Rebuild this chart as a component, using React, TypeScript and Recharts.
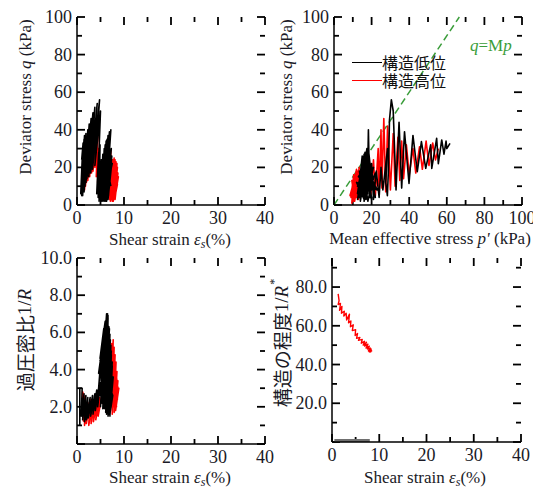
import type { ReactNode } from "react";
import { Legend, Line, LineChart, ReferenceLine, XAxis, YAxis } from "recharts";

type Pt = [number, number];
type Side = "bottom" | "left";
type AxisSpec = {
  domain: [number, number];
  ticks: number[];
  major: (v: number) => boolean;
  fmt: (v: number) => string;
};

const serif = '"Liberation Serif", "Times New Roman", serif';
const cjk = '"Noto Sans CJK JP", "Noto Sans", sans-serif';
const ink = "#1a1a26";
const LOW = "構造低位";
const HIGH = "構造高位";
const lowColor = "#000000";
const highColor = "#ff0000";
const cslColor = "#3a9d3a";
const M = 1.5;

const strainTicks = [0, 5, 10, 15, 20, 25, 30, 35, 40];
const stressTicks = [0, 10, 20, 30, 40, 50, 60, 70, 80, 90, 100];
const meanTicks = [0, 10, 20, 30, 40, 50, 60, 70, 80, 90, 100];
const ocrTicks = [0, 1, 2, 3, 4, 5, 6, 7, 8, 9, 10];
const structTicks = [0, 10, 20, 30, 40, 50, 60, 70, 80, 90];

// shear strain (%) vs deviator stress (kPa)
const qStrainLow: Pt[] = [
  [1.0, 24], [1.3, 33], [0.9, 10], [1.2, 30], [0.8, 6], [1.5, 35], [1.0, 5], [1.6, 37], [1.1, 8], [1.7, 34],
  [1.2, 5], [1.9, 38], [1.3, 9], [2.0, 36], [1.5, 7], [2.3, 40], [1.7, 10], [2.6, 43], [1.9, 12], [3.0, 46],
  [2.1, 14], [3.4, 49], [2.5, 15], [3.8, 52], [2.9, 17], [4.3, 54], [3.3, 19], [4.8, 56], [3.8, 21], [5.0, 50],
  [4.4, 10], [4.2, 6], [4.6, 28], [4.5, 4], [4.9, 32], [4.7, 2], [5.2, 24], [5.0, 3], [5.5, 27], [5.2, 2],
  [5.8, 30], [5.3, 4], [6.0, 32], [5.5, 2], [6.2, 34], [5.7, 5], [6.4, 35], [5.8, 2], [6.6, 37], [6.0, 4],
  [6.9, 39], [6.1, 2], [7.2, 40], [6.3, 6], [7.0, 33], [6.2, 3], [6.8, 29], [6.0, 7], [6.6, 26], [5.6, 5],
  [6.4, 22], [5.4, 8], [6.2, 25], [5.9, 3], [6.9, 28], [6.4, 4], [7.1, 24], [6.6, 3], [7.3, 20], [6.5, 8],
  [6.1, 18], [5.6, 12], [6.3, 27], [6.0, 10], [6.8, 20], [6.3, 2], [7.0, 16], [6.7, 5], [7.4, 26], [6.8, 9],
  [5.0, 6], [5.9, 28], [5.2, 10], [6.5, 33], [5.6, 3], [7.0, 36], [5.9, 6], [7.3, 30], [6.2, 2], [6.7, 24],
  [5.3, 14], [6.1, 30], [5.7, 18], [6.9, 32], [6.4, 10], [7.5, 22], [5.4, 20], [6.0, 15], [5.8, 22], [6.5, 13],
  [6.2, 20], [7.0, 12], [5.5, 17], [6.8, 14], [6.1, 24], [7.2, 10]
];
const qStrainHigh: Pt[] = [
  [1.4, 12], [1.7, 27], [1.3, 9], [1.9, 31], [1.6, 8], [2.1, 33], [1.8, 10], [2.4, 38], [2.0, 12], [2.7, 41],
  [2.3, 13], [3.1, 43], [2.7, 15], [3.5, 44], [3.1, 17], [3.9, 45], [3.4, 18], [4.2, 46], [3.8, 20], [4.5, 40],
  [4.1, 15], [4.6, 30], [4.4, 12], [5.6, 8], [6.3, 22], [6.0, 5], [6.8, 27], [6.5, 4], [7.2, 29], [6.9, 3],
  [7.6, 24], [7.1, 2], [7.9, 25], [7.3, 3], [8.1, 24], [7.5, 2], [8.3, 23], [7.7, 4], [8.5, 22], [7.8, 3],
  [8.6, 20], [8.0, 5], [8.7, 17], [8.1, 3], [8.5, 14], [7.9, 6], [8.4, 21], [7.6, 5], [8.2, 18], [7.4, 7],
  [8.0, 22], [7.7, 2], [8.6, 11], [8.2, 6], [8.8, 15], [8.3, 8]
];

// mean effective stress (kPa) vs deviator stress (kPa)
const qMeanLow: Pt[] = [
  [61.7, 32.8], [60, 30], [59.6, 34], [58.5, 27], [57.3, 34.6], [55.5, 22], [54.6, 35.5], [52, 19.5], [51.4, 32], [48.8, 19.5],
  [46.5, 33.7], [44.3, 17.7], [42, 37], [39.9, 11.5], [37.5, 39], [36, 9], [34.6, 44], [33, 8], [31.5, 50], [30.5, 56],
  [29.5, 45], [29, 20], [28.4, 5], [27.5, 12], [28.5, 30], [26, 8], [25, 20], [24, 4], [22.5, 18], [21, 3],
  [20, 22], [19, 4], [18.3, 40], [17.8, 12], [17, 3], [16, 24], [14, 3], [17, 27], [19.5, 5], [16.5, 28],
  [13, 4], [18, 26], [21, 7], [15.5, 22], [12.5, 3], [17.5, 25], [20, 3], [15, 26], [13, 7], [19, 21],
  [22, 4], [16, 27], [14, 2], [18.5, 28], [20.5, 9], [15, 19], [13.5, 4], [17.5, 30], [19.5, 4], [16.5, 16],
  [14.5, 5], [21, 15], [18, 2], [15, 24], [13, 9], [20, 21], [17, 3], [14.5, 20], [12.5, 6], [19, 17],
  [16, 2], [17.5, 29], [20, 13], [14, 13], [16.5, 5], [22, 17], [19, 8], [15.5, 20], [14, 6], [18, 23],
  [17, 10], [12, 12], [16, 3], [13.5, 18], [18, 6], [15, 22], [20, 4], [16, 20], [12.5, 10], [18.5, 16],
  [21.5, 10], [17, 21], [13, 15], [19, 12], [15, 8], [20.5, 18], [16, 12], [23, 8], [18, 18], [14, 9],
  [21, 20], [17.5, 6], [15, 16], [13.5, 12], [17, 15], [14.5, 17], [19.5, 10], [16, 17], [18, 13], [14, 16],
  [20, 8], [16.5, 22], [21, 12], [15.5, 9], [18.5, 21], [13, 6], [22, 9]
];
const qMeanHigh: Pt[] = [
  [55.5, 30], [54, 24], [52.5, 33], [50.5, 21], [49, 34], [47, 19], [45.5, 31], [43.5, 17], [42, 30], [40, 16],
  [38.5, 32], [37, 14], [36, 34], [35, 13], [34, 36], [32.5, 10], [31.5, 38], [30, 8], [28.5, 42], [27.5, 7],
  [26.5, 46], [25.5, 9], [25, 40], [24, 6], [23.5, 30], [22, 5], [21, 24], [19.5, 4], [19, 20], [17, 4],
  [15, 18], [13, 3], [12.5, 17], [10.5, 2], [11.5, 15], [9.5, 1], [10.5, 16], [9, 4], [12, 19], [10, 3],
  [11, 14], [8.5, 5], [12.5, 18], [11, 2], [13.5, 20], [10.5, 6], [9.5, 13], [12, 4], [14, 17], [11.5, 8]
];

// shear strain (%) vs overconsolidation ratio 1/R
const ocrLow: Pt[] = [
  [0.6, 1.0], [0.6, 3.0], [1.1, 3.0], [0.9, 1.5], [1.5, 2.7], [1.2, 1.3], [1.9, 2.6], [1.6, 1.2], [2.3, 2.5], [2.0, 1.3],
  [2.8, 2.5], [2.4, 1.4], [3.3, 2.6], [2.9, 1.5], [3.8, 2.7], [3.4, 1.6], [4.2, 2.9], [3.9, 1.8], [4.6, 3.0], [4.4, 2.0],
  [5.0, 3.3], [5.2, 2.5], [5.6, 4.8], [5.0, 2.0], [5.8, 5.3], [5.3, 2.2], [6.0, 5.8], [5.5, 1.9], [6.2, 6.2], [5.7, 2.4],
  [6.3, 6.6], [5.9, 2.0], [6.5, 7.0], [6.1, 2.5], [6.6, 6.8], [6.3, 2.2], [6.8, 6.3], [6.5, 1.8], [7.0, 5.9], [6.6, 2.3],
  [7.2, 5.3], [6.8, 1.6], [7.3, 4.8], [6.9, 2.0], [7.5, 4.2], [7.0, 1.5], [7.6, 3.6], [6.6, 2.8], [6.0, 4.8], [4.8, 3.5],
  [5.6, 5.5], [4.6, 3.8], [5.9, 6.2], [5.1, 3.0], [6.4, 6.6], [5.4, 4.2], [6.7, 5.5], [4.9, 4.5], [6.2, 5.0], [5.6, 3.2],
  [6.9, 4.5], [5.8, 2.8], [7.1, 3.8], [6.2, 3.0], [6.0, 4.0], [7.0, 3.2], [6.4, 1.7], [4.6, 3.0], [5.4, 5.6], [4.7, 3.8],
  [5.7, 6.2], [4.9, 4.6], [6.0, 6.6], [5.1, 2.6], [6.3, 7.0], [5.3, 3.4], [6.6, 6.9], [5.5, 2.2], [6.9, 6.2], [5.8, 1.9],
  [7.1, 5.6], [6.1, 1.7], [7.3, 5.0], [6.3, 1.6], [7.5, 4.4], [6.6, 1.5], [7.7, 3.6], [7.0, 1.6], [7.6, 2.6], [6.2, 3.6],
  [5.2, 4.8], [5.9, 5.8], [4.8, 3.4], [6.6, 6.4], [5.6, 2.8], [7.2, 4.6], [5.0, 2.6], [6.8, 5.8], [5.9, 2.4], [6.4, 6.0],
  [5.4, 4.2], [7.0, 4.0], [6.0, 2.8], [7.4, 3.2], [5.8, 3.6], [6.2, 5.2], [6.9, 2.2], [5.3, 5.0], [6.1, 2.1], [5.5, 5.4],
  [6.4, 2.3], [5.8, 5.9], [6.7, 2.6], [6.1, 6.3], [7.1, 2.9], [6.4, 5.4], [5.2, 2.9], [6.9, 5.0], [5.5, 3.6], [7.3, 4.2],
  [5.8, 4.4], [6.5, 2.0], [6.1, 4.6], [5.0, 3.8], [6.7, 3.4], [5.7, 4.9], [7.5, 3.0], [6.3, 4.0], [5.4, 3.0]
];
const ocrHigh: Pt[] = [
  [1.4, 1.2], [1.2, 2.8], [1.8, 2.3], [1.6, 1.0], [2.3, 2.2], [2.0, 1.1], [2.8, 2.4], [2.5, 1.0], [3.3, 2.2], [3.0, 1.1],
  [3.8, 2.3], [3.5, 1.2], [4.3, 2.4], [4.0, 1.3], [4.8, 2.5], [4.5, 1.5], [5.3, 2.6], [5.8, 2.0], [6.4, 4.0], [6.2, 1.8],
  [7.0, 5.0], [6.8, 1.7], [7.4, 5.4], [7.1, 1.8], [7.7, 5.6], [7.3, 2.0], [7.9, 5.2], [7.5, 1.6], [8.1, 4.8], [7.7, 2.0],
  [8.3, 4.4], [7.9, 1.7], [8.5, 3.9], [8.1, 2.1], [8.7, 3.4], [8.2, 1.8], [8.9, 3.0], [8.4, 2.2], [8.6, 2.6], [7.8, 3.5],
  [8.4, 2.0], [7.2, 4.4], [8.0, 2.2], [7.6, 5.0], [8.6, 2.4], [7.9, 4.4], [8.8, 2.8], [8.2, 4.0], [7.5, 2.6], [8.4, 3.6],
  [7.8, 2.4], [8.0, 4.8]
];

// shear strain (%) vs degree of structure 1/R*
const structLow: Pt[] = [[0.5, 0.8], [8.0, 0.8]];
const structHigh: Pt[] = [
  [1.3, 76.5], [1.5, 73], [1.3, 71], [1.8, 71.5], [1.6, 68], [2.1, 70], [2.0, 66.5], [2.6, 67.5], [2.5, 65], [3.0, 66.5],
  [3.1, 63], [3.7, 66], [3.5, 61.5], [4.0, 62.5], [3.9, 59.5], [4.5, 60.5], [4.3, 57.5], [5.0, 58], [4.9, 55], [5.4, 56],
  [5.2, 53.5], [5.9, 54], [5.6, 52.5], [6.4, 53], [6.2, 51], [6.9, 52], [6.6, 50], [7.3, 51.5], [6.9, 49.5], [7.6, 50.5],
  [7.2, 48.5], [7.9, 49.5], [7.5, 48], [8.1, 48.5], [7.7, 47], [8.3, 48], [7.9, 46.5], [8.4, 47], [7.6, 49], [8.2, 46.5],
  [7.3, 50], [8.0, 48], [6.8, 51], [7.5, 49.5]
];

const frame = { stroke: "#000", strokeWidth: 1.5 };

// tick labels only; the inward tick marks are drawn as reference segments
const tickLabel = (side: Side, fmt: (v: number) => string) => (props: any) => {
  const x = Number(props.x);
  const y = Number(props.y);
  const label = fmt(Number(props.payload?.value));
  if (!label) return <g />;
  return side === "bottom" ? (
    <text x={x} y={y + 19} textAnchor="middle" fontFamily={serif} fontSize={18} fill={ink}>
      {label}
    </text>
  ) : (
    <text x={x - 5} y={y + 6} textAnchor="end" fontFamily={serif} fontSize={18} fill={ink}>
      {label}
    </text>
  );
};

function tickMarks(x: AxisSpec, y: AxisSpec, plotW: number, plotH: number) {
  const [x0, x1] = x.domain;
  const [y0, y1] = y.domain;
  const perPxX = (x1 - x0) / plotW;
  const perPxY = (y1 - y0) / plotH;
  const seg = (key: string, a: { x: number; y: number }, b: { x: number; y: number }) => (
    <ReferenceLine
      key={key}
      xAxisId="b"
      yAxisId="l"
      segment={[a, b]}
      stroke="#000"
      strokeWidth={1.8}
      ifOverflow="visible"
    />
  );
  const out: ReactNode[] = [];
  x.ticks.forEach((v) => {
    const len = (x.major(v) ? 8 : 5) * perPxY;
    out.push(seg(`xb${v}`, { x: v, y: y0 }, { x: v, y: y0 + len }));
    out.push(seg(`xt${v}`, { x: v, y: y1 }, { x: v, y: y1 - len }));
  });
  y.ticks.forEach((v) => {
    const len = (y.major(v) ? 8 : 5) * perPxX;
    out.push(seg(`yl${v}`, { x: x0, y: v }, { x: x0 + len, y: v }));
    out.push(seg(`yr${v}`, { x: x1, y: v }, { x: x1 - len, y: v }));
  });
  return out;
}

const rotatedTitle = (cx: number, cy: number, body: ReactNode, size: number, family: string) => () => (
  <text
    x={cx}
    y={cy}
    transform={`rotate(-90 ${cx} ${cy})`}
    textAnchor="middle"
    dominantBaseline="central"
    fontFamily={family}
    fontSize={size}
    fill={ink}
  >
    {body}
  </text>
);

const flatTitle = (cx: number, baseline: number, body: ReactNode) => () => (
  <text x={cx} y={baseline} textAnchor="middle" fontFamily={serif} fontSize={17} fill={ink}>
    {body}
  </text>
);

const strainTitle = (
  <>
    Shear strain <tspan fontStyle="italic">ε</tspan>
    <tspan fontStyle="italic" fontSize={12} dy={3}>s</tspan>
    <tspan dy={-3}>(%)</tspan>
  </>
);
const deviatorTitle = (
  <>
    Deviator stress <tspan fontStyle="italic">q</tspan> (kPa)
  </>
);
const meanTitle = (
  <>
    Mean effective stress <tspan fontStyle="italic">p'</tspan> (kPa)
  </>
);
const ocrTitle = (
  <>
    過圧密比<tspan fontFamily={serif}>1/</tspan>
    <tspan fontFamily={serif} fontStyle="italic">R</tspan>
  </>
);
const structTitle = (
  <>
    構造の程度<tspan fontFamily={serif}>1/</tspan>
    <tspan fontFamily={serif} fontStyle="italic">R</tspan>
    <tspan fontFamily={serif} fontSize={12} dx={1} dy={-7}>*</tspan>
  </>
);

const strainAxis: AxisSpec = {
  domain: [0, 40],
  ticks: strainTicks,
  major: (v) => v % 10 === 0,
  fmt: (v) => (v % 10 === 0 ? String(v) : "")
};
const stressAxis: AxisSpec = {
  domain: [0, 100],
  ticks: stressTicks,
  major: (v) => v % 20 === 0,
  fmt: (v) => (v % 20 === 0 ? String(v) : "")
};
const meanAxis: AxisSpec = {
  domain: [0, 100],
  ticks: meanTicks,
  major: (v) => v % 20 === 0,
  fmt: (v) => (v % 20 === 0 ? String(v) : "")
};
const ocrAxis: AxisSpec = {
  domain: [0, 10],
  ticks: ocrTicks,
  major: (v) => v % 2 === 0,
  fmt: (v) => (v % 2 === 0 && v > 0 ? v.toFixed(1) : "")
};
const structAxis: AxisSpec = {
  domain: [0, 95],
  ticks: structTicks,
  major: (v) => v % 20 === 0,
  fmt: (v) => (v % 20 === 0 && v > 0 ? v.toFixed(1) : "")
};

const series = (pts: Pt[], color: string, name: string, width = 1.6) => (
  <Line
    key={name}
    xAxisId="b"
    yAxisId="l"
    data={pts.map(([x, y]) => ({ x, y }))}
    dataKey="y"
    name={name}
    stroke={color}
    strokeWidth={width}
    strokeLinejoin="round"
    dot={false}
    activeDot={false}
    isAnimationActive={false}
  />
);

const legendOrder = [LOW, HIGH];

function renderLegend(props: any) {
  const items = [...(props.payload ?? [])].sort(
    (a: any, b: any) => legendOrder.indexOf(a.value) - legendOrder.indexOf(b.value)
  );
  return (
    <div>
      {items.map((it: any) => (
        <div key={it.value} style={{ display: "flex", alignItems: "center", height: 18 }}>
          <span style={{ display: "inline-block", width: 30, borderTop: `1.3px solid ${it.color}` }} />
          <span style={{ fontFamily: cjk, fontSize: 16, lineHeight: "18px", color: "#111" }}>{it.value}</span>
        </div>
      ))}
    </div>
  );
}

const qmpLabel = () => (
  <text x={195} y={51} fontFamily={serif} fontSize={17} fill={cslColor}>
    <tspan fontStyle="italic">q</tspan>=M<tspan fontStyle="italic">p</tspan>
  </text>
);

type PanelProps = {
  left: number;
  top: number;
  width: number;
  height: number;
  marginTop: number;
  marginRight: number;
  leftWidth: number;
  bottomHeight: number;
  x: AxisSpec;
  y: AxisSpec;
  xTitle: () => ReactNode;
  yTitle: () => ReactNode;
  children: ReactNode;
};

function Panel(p: PanelProps) {
  const plotW = p.width - p.leftWidth - p.marginRight;
  const plotH = p.height - p.marginTop - p.bottomHeight;
  return (
    <div style={{ position: "absolute", left: p.left, top: p.top }}>
      <LineChart
        width={p.width}
        height={p.height}
        margin={{ top: p.marginTop, right: p.marginRight, bottom: 0, left: 0 }}
      >
        <XAxis
          xAxisId="b"
          type="number"
          dataKey="x"
          domain={p.x.domain}
          ticks={p.x.ticks}
          interval={0}
          height={p.bottomHeight}
          tickSize={0}
          tickMargin={0}
          tickLine={false}
          axisLine={frame}
          tick={tickLabel("bottom", p.x.fmt)}
          label={p.xTitle}
        />
        <XAxis
          xAxisId="t"
          orientation="top"
          type="number"
          dataKey="x"
          domain={p.x.domain}
          height={0}
          tick={false}
          tickLine={false}
          axisLine={frame}
        />
        <YAxis
          yAxisId="l"
          type="number"
          dataKey="y"
          domain={p.y.domain}
          ticks={p.y.ticks}
          interval={0}
          width={p.leftWidth}
          tickSize={0}
          tickMargin={0}
          tickLine={false}
          axisLine={frame}
          tick={tickLabel("left", p.y.fmt)}
          label={p.yTitle}
        />
        <YAxis
          yAxisId="r"
          orientation="right"
          type="number"
          dataKey="y"
          domain={p.y.domain}
          width={0}
          tick={false}
          tickLine={false}
          axisLine={frame}
        />
        {tickMarks(p.x, p.y, plotW, plotH)}
        {p.children}
      </LineChart>
    </div>
  );
}

export default function App() {
  return (
    <div style={{ position: "absolute", left: 0, top: 0, width: 549, height: 491, background: "#fff", overflow: "hidden" }}>
      <Panel
        left={0}
        top={0}
        width={275}
        height={255}
        marginTop={17}
        marginRight={10}
        leftWidth={77}
        bottomHeight={50}
        x={strainAxis}
        y={stressAxis}
        xTitle={flatTitle(170, 245, strainTitle)}
        yTitle={rotatedTitle(25, 97, deviatorTitle, 17, serif)}
      >
        {series(qStrainHigh, highColor, HIGH)}
        {series(qStrainLow, lowColor, LOW)}
      </Panel>

      <Panel
        left={275}
        top={0}
        width={258}
        height={255}
        marginTop={17}
        marginRight={11}
        leftWidth={59}
        bottomHeight={50}
        x={meanAxis}
        y={stressAxis}
        xTitle={flatTitle(155, 244, meanTitle)}
        yTitle={rotatedTitle(11, 97, deviatorTitle, 17, serif)}
      >
        <ReferenceLine
          xAxisId="b"
          yAxisId="l"
          segment={[{ x: 0, y: 0 }, { x: 100 / M, y: 100 }]}
          stroke={cslColor}
          strokeWidth={1.5}
          strokeDasharray="7 4"
          label={qmpLabel}
        />
        {series(qMeanHigh, highColor, HIGH)}
        {series(qMeanLow, lowColor, LOW)}
        <Legend
          layout="vertical"
          align="center"
          verticalAlign="middle"
          wrapperStyle={{ left: 77, top: 53, width: "auto" }}
          content={renderLegend}
        />
      </Panel>

      <Panel
        left={0}
        top={245}
        width={275}
        height={250}
        marginTop={13}
        marginRight={10}
        leftWidth={77}
        bottomHeight={51}
        x={strainAxis}
        y={ocrAxis}
        xTitle={flatTitle(170, 238, strainTitle)}
        yTitle={rotatedTitle(24, 95, ocrTitle, 19, cjk)}
      >
        {series(ocrHigh, highColor, HIGH)}
        {series(ocrLow, lowColor, LOW)}
      </Panel>

      <Panel
        left={262}
        top={245}
        width={269}
        height={250}
        marginTop={13}
        marginRight={10}
        leftWidth={70}
        bottomHeight={53}
        x={strainAxis}
        y={structAxis}
        xTitle={flatTitle(163, 238, strainTitle)}
        yTitle={rotatedTitle(19, 98, structTitle, 19, cjk)}
      >
        {series(structLow, "#6f6f6f", LOW, 3)}
        {series(structHigh, highColor, HIGH, 1.4)}
      </Panel>
    </div>
  );
}
